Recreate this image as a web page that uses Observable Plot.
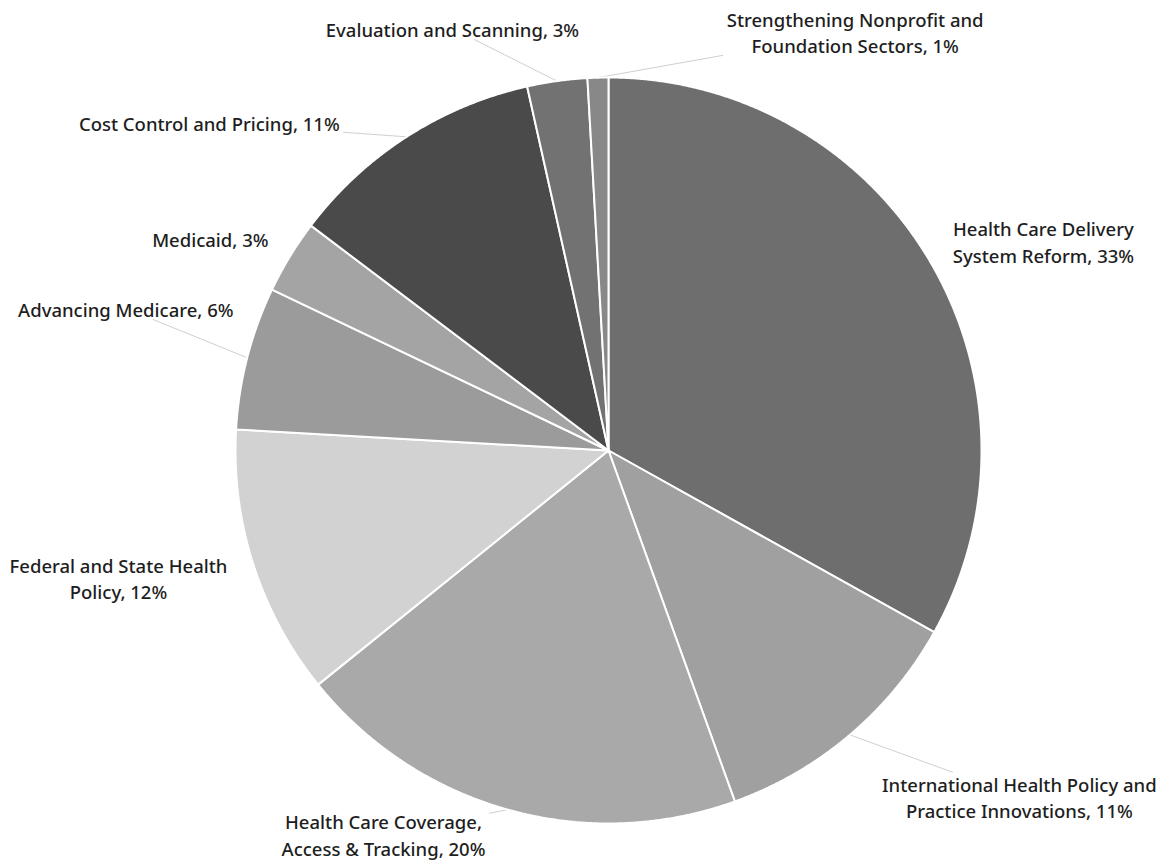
<!DOCTYPE html>
<html>
<head>
<meta charset="utf-8">
<script src="https://cdn.jsdelivr.net/npm/d3@7"></script>
<script src="https://cdn.jsdelivr.net/npm/@observablehq/plot@0.6"></script>
<style>
  html, body { margin: 0; padding: 0; background: #fff; }
  #chart svg { display: block; }
</style>
</head>
<body>
<div id="chart"></div>
<script>
// ---- data ----
const categories = [
  "Health Care Delivery System Reform",
  "International Health Policy and Practice Innovations",
  "Health Care Coverage, Access & Tracking",
  "Federal and State Health Policy",
  "Advancing Medicare",
  "Medicaid",
  "Cost Control and Pricing",
  "Evaluation and Scanning",
  "Strengthening Nonprofit and Foundation Sectors"
];
const values = [33.1, 11.4, 19.7, 11.7, 6.2, 3.2, 11.2, 2.6, 0.9];
const labels = [
  "Health Care Delivery\nSystem Reform, 33%",
  "International Health Policy and\nPractice Innovations, 11%",
  "Health Care Coverage,\nAccess & Tracking, 20%",
  "Federal and State Health\nPolicy, 12%",
  "Advancing Medicare, 6%",
  "Medicaid, 3%",
  "Cost Control and Pricing, 11%",
  "Evaluation and Scanning, 3%",
  "Strengthening Nonprofit and\nFoundation Sectors, 1%"
];

// ---- styles / layout ----
const palette = ["#6e6e6e", "#a0a0a0", "#a9a9a9", "#d2d2d2", "#9b9b9b", "#a4a4a4", "#4a4a4a", "#727272", "#888888"];
// label placement: angle (deg clockwise from 12 o'clock) and distance (in radii)
const labelAngle = [64.3, 130.1, 210.4, 255.5, 286.4, 298.0, 309.4, 339.7, 30.5];
const labelDist  = [1.294, 1.44, 1.192, 1.357, 1.349, 1.209, 1.385, 1.206, 1.303];
const hasLeader  = [false, true, true, false, true, false, true, true, true];

const W = 1159, H = 863, CX = 608, CY = 450, R = 373;
const FONT_SIZE = 18.5, LINE_H = 1.42, FONT_WEIGHT = 500, FONT = "'Noto Sans', sans-serif";

// ---- geometry from data ----
const arcs = d3.pie().sort(null).value(d => d)(values);
const slicePts = [];
arcs.forEach((a, i) => {
  const cat = categories[i];
  slicePts.push({x: 0, y: 0, cat});
  const n = Math.max(2, Math.ceil((a.endAngle - a.startAngle) / 0.004));
  for (let k = 0; k <= n; k++) {
    const t = a.startAngle + (a.endAngle - a.startAngle) * k / n;
    slicePts.push({x: Math.sin(t), y: -Math.cos(t), cat});
  }
  slicePts.push({x: 0, y: 0, cat});
});

const rad = d => d * Math.PI / 180;
const labelData = labels.map((text, i) => ({
  text,
  x: labelDist[i] * Math.sin(rad(labelAngle[i])),
  y: -labelDist[i] * Math.cos(rad(labelAngle[i]))
}));

// measure text to stop leader lines at the label box
const ctx = document.createElement("canvas").getContext("2d");
ctx.font = `${FONT_WEIGHT} ${FONT_SIZE}px 'Noto Sans'`;
const leaderPts = [];
arcs.forEach((a, i) => {
  if (!hasLeader[i]) return;
  const mid = (a.startAngle + a.endAngle) / 2;
  const px = Math.sin(mid), py = -Math.cos(mid);
  const L = labelData[i];
  const lines = L.text.split("\n");
  const hw = (d3.max(lines, s => ctx.measureText(s).width) / 2 + 4) / R;
  const hh = (lines.length * FONT_SIZE * LINE_H / 2 - 2) / R;
  const dx = Math.abs(L.x - px), dy = Math.abs(L.y - py);
  const t = Math.max(0, dx > 0 ? 1 - hw / dx : 0, dy > 0 ? 1 - hh / dy : 0);
  leaderPts.push({x: px, y: py, id: i});
  leaderPts.push({x: px + t * (L.x - px), y: py + t * (L.y - py), id: i});
});

const chart = Plot.plot({
  width: W,
  height: H,
  margin: 0,
  style: {background: "#fff", fontFamily: FONT},
  x: {domain: [-CX / R, (W - CX) / R], range: [0, W], axis: null},
  y: {domain: [-CY / R, (H - CY) / R], range: [0, H], axis: null},
  color: {domain: categories, range: palette},
  marks: [
    Plot.line(leaderPts, {x: "x", y: "y", z: "id", stroke: "#cfcfcf", strokeWidth: 1}),
    Plot.line(slicePts, {x: "x", y: "y", z: "cat", fill: "cat", stroke: "white", strokeWidth: 2, strokeLinejoin: "round"}),
    Plot.text(labelData, {
      x: "x", y: "y", text: "text",
      textAnchor: "middle", lineAnchor: "middle",
      lineHeight: LINE_H, fontSize: FONT_SIZE, fontWeight: FONT_WEIGHT, fill: "#1e1e1e"
    })
  ]
});
document.getElementById("chart").appendChild(chart);
</script>
</body>
</html>
